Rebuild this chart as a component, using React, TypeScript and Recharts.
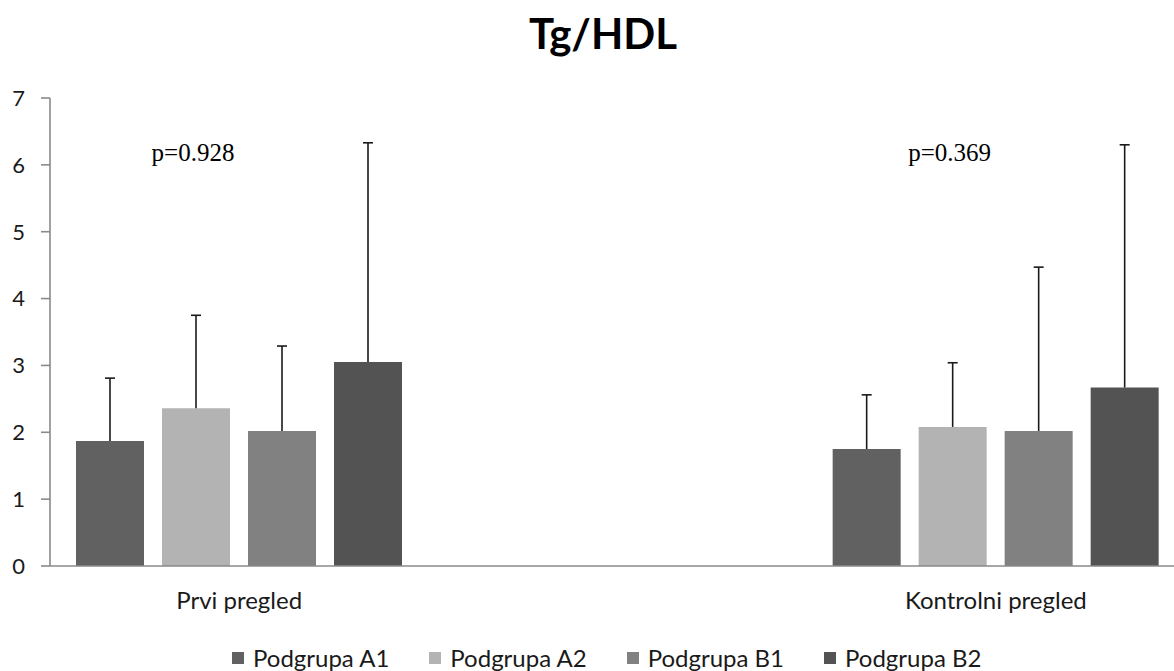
import React from 'react';
import { BarChart, Bar, XAxis, YAxis, Legend, LabelList } from 'recharts';

// categories (middle slot is the empty gap Excel leaves between the two exams)
const categories = ['Prvi pregled', '', 'Kontrolni pregled'];
const groups = ['Podgrupa A1', 'Podgrupa A2', 'Podgrupa B1', 'Podgrupa B2'];

const meanA1 = [1.87, null, 1.75];
const meanA2 = [2.36, null, 2.08];
const meanB1 = [2.02, null, 2.02];
const meanB2 = [3.05, null, 2.67];

const sdA1 = [0.94, null, 0.81];
const sdA2 = [1.39, null, 0.96];
const sdB1 = [1.27, null, 2.45];
const sdB2 = [3.28, null, 3.63];

const pValues = ['p=0.928', '', 'p=0.369'];
const yTicks = [0, 1, 2, 3, 4, 5, 6, 7];

const colors = ['#616161', '#b3b3b3', '#818181', '#535353'];
const FONT = 'Lato, "Open Sans", sans-serif';

const means = [meanA1, meanA2, meanB1, meanB2];
const sds = [sdA1, sdA2, sdB1, sdB2];

const data = categories.map((name, i) => {
  const row: Record<string, any> = { name, p: pValues[i] };
  means.forEach((m, k) => {
    row['m' + k] = m[i];
    row['s' + k] = sds[k][i];
  });
  return row;
});

// upper-only error whisker, drawn as the stacked segment above each mean
const Whisker = (props: any) => {
  const { x, y, width, height } = props;
  if (!width || !(height > 0)) return null;
  const cx = x + width / 2;
  return (
    <g stroke="#1a1a1a" strokeWidth={1.6}>
      <line x1={cx} y1={y} x2={cx} y2={y + height} />
      <line x1={cx - 5} y1={y} x2={cx + 5} y2={y} />
    </g>
  );
};

const PLabel = (props: any) => {
  const { x, width, value } = props;
  if (!value) return null;
  return (
    <text x={x + width / 2 - 3} y={161} textAnchor="middle"
      fontFamily='"Liberation Serif", "Times New Roman", serif' fontSize={25} fill="#000">
      {value}
    </text>
  );
};

const LegendBox = () => (
  <div style={{
    height: 55, boxSizing: 'border-box', paddingTop: 28, paddingLeft: 232, display: 'flex',
    justifyContent: 'flex-start', gap: 40, fontFamily: FONT, fontSize: 24, color: '#1a1a1a',
  }}>
    {groups.map((g, i) => (
      <span key={g} style={{ display: 'flex', alignItems: 'center', lineHeight: '24px', whiteSpace: 'nowrap' }}>
        <span style={{ width: 12, height: 12, background: colors[i], marginRight: 9, display: 'inline-block' }} />
        {g}
      </span>
    ))}
  </div>
);

export default function App() {
  return (
    <div style={{ position: 'absolute', left: 0, top: 0, width: 1174, height: 671, overflow: 'hidden', background: '#fff' }}>
      <div style={{
        position: 'absolute', left: 0, top: 12, width: 1206, textAlign: 'center',
        fontFamily: FONT, fontWeight: 700, fontSize: 42, lineHeight: '42px', color: '#000',
      }}>
        Tg/HDL
      </div>
      <BarChart width={1190} height={671} data={data}
        margin={{ top: 98, right: 5, bottom: 0, left: 0 }} barGap={18} barSize={68}>
        <XAxis dataKey="name" interval={0} tickLine={false} tickSize={0} tickMargin={26}
          height={50} stroke="#8a8a8a" strokeWidth={1.6}
          tick={{ fontFamily: FONT, fontSize: 24, fill: '#1a1a1a' }} />
        <YAxis width={50} domain={[0, 7]} ticks={yTicks} interval={0} tickSize={9} tickMargin={16}
          stroke="#8a8a8a" strokeWidth={1.6}
          tick={{ fontFamily: FONT, fontSize: 22, fill: '#1a1a1a' }} />
        <Legend verticalAlign="bottom" content={() => <LegendBox />} />
        {groups.map((g, k) => (
          <Bar key={'m' + k} dataKey={'m' + k} name={g} stackId={'g' + k} fill={colors[k]} isAnimationActive={false}>
            {k === 1 && <LabelList dataKey="p" content={PLabel} />}
          </Bar>
        ))}
        {groups.map((g, k) => (
          <Bar key={'s' + k} dataKey={'s' + k} stackId={'g' + k} fill="none"
            shape={Whisker} isAnimationActive={false} legendType="none" />
        ))}
      </BarChart>
    </div>
  );
}
